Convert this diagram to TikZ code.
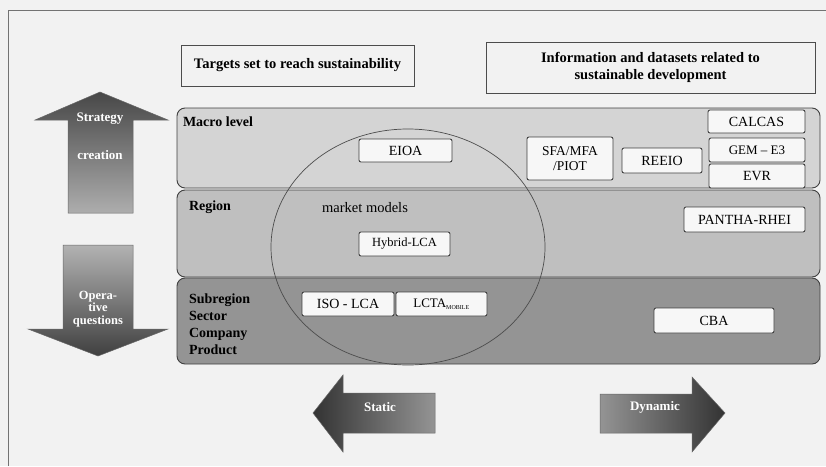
\documentclass[tikz,border=0pt]{standalone}
\usepackage{fontspec}
\setmainfont{Liberation Serif}
\usetikzlibrary{shapes.geometric}
\begin{document}
\begin{tikzpicture}[x=1pt,y=-1pt,
  every node/.style={inner sep=0pt,outer sep=0pt},
  topbox/.style={draw=black!70,line width=0.8pt,fill=black!5,font=\bfseries\fontsize{14.5}{17}\selectfont,align=center},
  mbox/.style={draw=black!75,line width=0.9pt,fill=white!97!black,rounded corners=2pt,font=\fontsize{14}{15}\selectfont,align=center},
  band/.style={draw=black!75,line width=0.9pt,rounded corners=8pt},
  lbl/.style={font=\bfseries\fontsize{14}{17}\selectfont,anchor=west,align=left},
  arrtext/.style={text=white,font=\bfseries\fontsize{13}{13}\selectfont,align=center}
]
\useasboundingbox (0,0) rectangle (826,466);
\fill[black!5] (0,0) rectangle (826,466);
\draw[black!55,line width=0.8pt] (8,466) -- (8,10) -- (826,10);

% top boxes
\node[topbox,minimum width=233pt,minimum height=41pt] (targets) at (297.5,65.5) {Targets set to reach sustainability};
\node[topbox,minimum width=329pt,minimum height=51pt] (info) at (650.5,67.5) {Information and datasets related to\\sustainable development};

% bands
\draw[band,fill=black!17] (177,108) rectangle (820,188);
\draw[band,fill=black!25] (177,190) rectangle (820,277);
\draw[band,fill=black!42] (177,278) rectangle (820,364);

% ellipse
\draw[black!70,line width=0.7pt] (408,247) ellipse [x radius=137,y radius=118];

% band labels
\node[lbl] (macro) at (183,122) {Macro level};
\node[lbl] (region) at (189,207) {Region};
\node[lbl,font=\bfseries\fontsize{14}{17}\selectfont] (sub) at (189,324) {Subregion\\Sector\\Company\\Product};
\node[font=\fontsize{14.5}{16}\selectfont] (market) at (365,208) {market models};

% method boxes
\node[mbox,minimum width=93pt,minimum height=23pt] (eioa) at (405.5,150.5) {EIOA};
\node[mbox,minimum width=86pt,minimum height=43pt,font=\fontsize{13.5}{15}\selectfont] (sfa) at (570,158.5) {SFA/MFA\\/PIOT};
\node[mbox,minimum width=80pt,minimum height=25pt] (reeio) at (662,160.5) {REEIO};
\node[mbox,minimum width=97pt,minimum height=23pt] (calcas) at (756.5,121.5) {CALCAS};
\node[mbox,minimum width=96pt,minimum height=24pt,font=\fontsize{13}{15}\selectfont] (gem) at (757,150) {GEM -- E3};
\node[mbox,minimum width=96pt,minimum height=24pt] (evr) at (757,176) {EVR};
\node[mbox,minimum width=121pt,minimum height=25pt] (pantha) at (744.5,219.5) {PANTHA-RHEI};
\node[mbox,minimum width=91pt,minimum height=24pt,font=\fontsize{12.5}{15}\selectfont] (hybrid) at (404.5,244) {Hybrid-LCA};
\node[mbox,minimum width=92pt,minimum height=24pt] (iso) at (348,304) {ISO - LCA};
\node[mbox,minimum width=91pt,minimum height=24pt,font=\fontsize{13}{15}\selectfont] (lcta) at (441.5,304) {LCTA\textsubscript{\fontsize{6}{7}\selectfont MOBILE}};
\node[mbox,minimum width=120pt,minimum height=25pt] (cba) at (714,320.5) {CBA};

% strategy creation arrow (up)
\shade[top color=black!72,bottom color=black!32,draw=black!60,line width=0.5pt]
  (100,92) -- (168,120) -- (133,120) -- (133,213) -- (68,213) -- (68,120) -- (35,120) -- cycle;
\node[arrtext] (strat) at (100,119) {Strategy};
\node[arrtext] (creat) at (100,155) {creation};

% operative questions arrow (down)
\shade[top color=black!30,bottom color=black!75,draw=black!60,line width=0.5pt]
  (63,245) -- (133,245) -- (133,329) -- (168,329) -- (98,356) -- (28,329) -- (63,329) -- cycle;
\node[arrtext,font=\bfseries\fontsize{12.5}{12.5}\selectfont] (oper) at (98,309) {Opera-\\tive\\questions};

% static arrow (left)
\shade[left color=black!80,right color=black!42,draw=black!60,line width=0.5pt]
  (313,413) -- (343,375) -- (343,393) -- (435,393) -- (435,433) -- (343,433) -- (343,452) -- cycle;
\node[arrtext] (static) at (380,407) {Static};

% dynamic arrow (right)
\shade[left color=black!42,right color=black!80,draw=black!60,line width=0.5pt]
  (600,394) -- (692,394) -- (692,377) -- (725,413) -- (692,452) -- (692,433) -- (600,433) -- cycle;
\node[arrtext] (dynamic) at (655,407) {Dynamic};
\end{tikzpicture}
\end{document}
